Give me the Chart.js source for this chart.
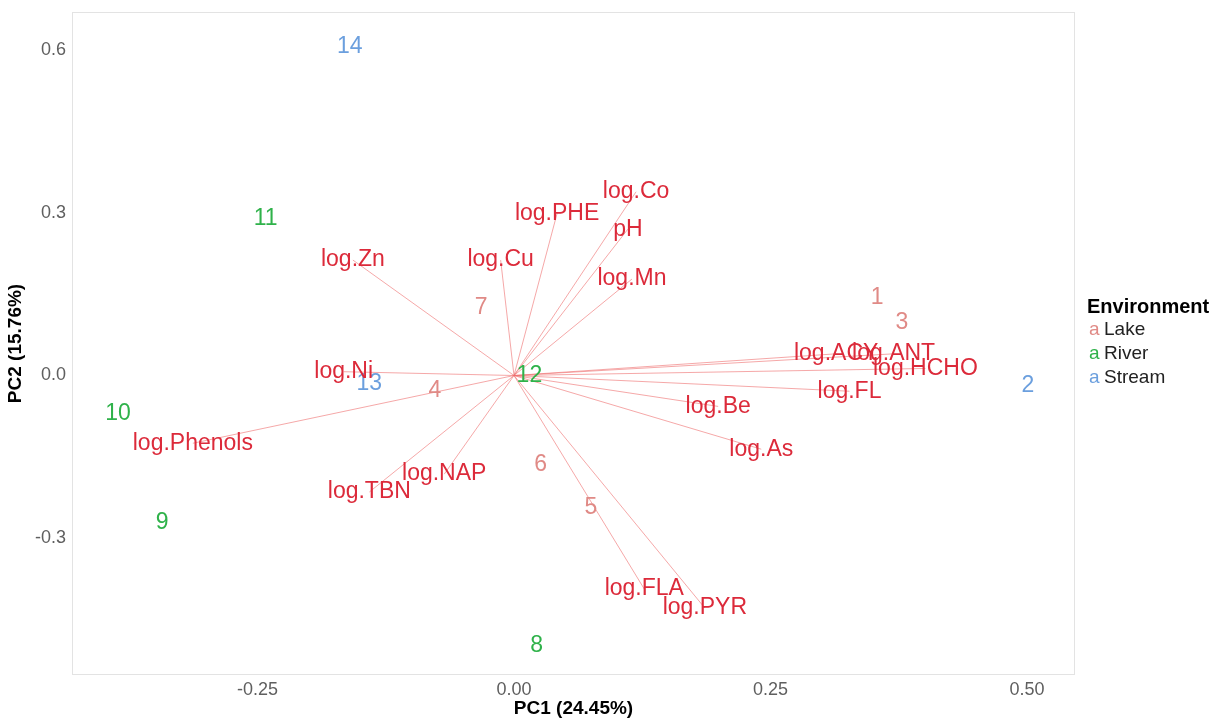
<!DOCTYPE html>
<html>
<head>
<meta charset="utf-8">
<script src="https://cdn.jsdelivr.net/npm/chart.js@4"></script>
<style>
body { margin: 0; background: #fff; }
#wrap { width: 1225px; height: 720px; }
</style>
</head>
<body>
<div id="wrap"><canvas id="pca" width="1225" height="720"></canvas></div>
<script>
// samples (scores)
var sampleIds = ['1','2','3','4','5','6','7','8','9','10','11','12','13','14'];
var sampleEnv = ['Lake','Stream','Lake','Lake','Lake','Lake','Lake','River','River','River','River','River','Stream','Stream'];
var sampleX = [0.354, 0.501, 0.378, -0.077, 0.075, 0.026, -0.032, 0.022, -0.343, -0.386, -0.242, 0.015, -0.141, -0.160];
var sampleY = [0.143, -0.018, 0.097, -0.028, -0.244, -0.165, 0.125, -0.499, -0.272, -0.070, 0.290, 0.000, -0.015, 0.607];

// loadings (arrow ends)
var loadNames = ['log.Zn','log.Cu','log.PHE','log.Co','pH','log.Mn','log.Ni','log.Phenols','log.TBN','log.NAP',
                 'log.FLA','log.PYR','log.As','log.Be','log.FL','log.ACY','log.ANT','log.HCHO'];
var loadX = [-0.157, -0.013, 0.042, 0.119, 0.111, 0.115, -0.166, -0.313, -0.141, -0.068,
             0.127, 0.186, 0.241, 0.199, 0.327, 0.314, 0.370, 0.401];
var loadY = [0.213, 0.213, 0.299, 0.339, 0.270, 0.178, 0.007, -0.125, -0.215, -0.182,
             -0.394, -0.429, -0.136, -0.057, -0.029, 0.040, 0.040, 0.013];

var envNames = ['Lake','River','Stream'];
var envColors = ['#e08a86', '#2fb24a', '#6b9fde'];

var xTicks = [-0.25, 0, 0.25, 0.5];
var yTicks = [-0.3, 0, 0.3, 0.6];

var FONT = "'Liberation Sans', Arial, sans-serif";

function envColor(e) { return envColors[envNames.indexOf(e)]; }

var datasets = [];
for (var i = 0; i < loadNames.length; i++) {
    datasets.push({
        label: loadNames[i],
        data: [{x: 0, y: 0}, {x: loadX[i], y: loadY[i]}],
        showLine: true,
        borderColor: 'rgba(238,110,110,0.6)',
        borderWidth: 1,
        pointRadius: 0,
        fill: false
    });
}
var samplePts = [];
for (var i = 0; i < sampleIds.length; i++) samplePts.push({x: sampleX[i], y: sampleY[i]});
datasets.push({ label: 'samples', data: samplePts, pointRadius: 0, showLine: false });

var textPlugin = {
    id: 'biplotText',
    beforeDatasetsDraw: function(chart) {
        var a = chart.chartArea, ctx = chart.ctx;
        ctx.save();
        ctx.strokeStyle = '#e3e3e3';
        ctx.lineWidth = 1;
        ctx.strokeRect(a.left + 0.5, a.top + 0.5, a.right - a.left - 1, a.bottom - a.top - 1);
        ctx.restore();
    },
    afterDatasetsDraw: function(chart) {
        var ctx = chart.ctx, xs = chart.scales.x, ys = chart.scales.y;
        ctx.save();
        ctx.textAlign = 'center';
        ctx.textBaseline = 'middle';
        ctx.font = '23px ' + FONT;
        for (var i = 0; i < sampleIds.length; i++) {
            ctx.fillStyle = envColor(sampleEnv[i]);
            ctx.fillText(sampleIds[i], xs.getPixelForValue(sampleX[i]), ys.getPixelForValue(sampleY[i]));
        }
        ctx.fillStyle = '#dc2a3a';
        for (var i = 0; i < loadNames.length; i++) {
            ctx.fillText(loadNames[i], xs.getPixelForValue(loadX[i]), ys.getPixelForValue(loadY[i]));
        }
        // legend
        var lx = chart.chartArea.right + 12;
        ctx.textAlign = 'left';
        ctx.fillStyle = '#000';
        ctx.font = 'bold 20px ' + FONT;
        ctx.fillText('Environment', lx, 307);
        ctx.font = '19px ' + FONT;
        for (var j = 0; j < envNames.length; j++) {
            var yy = 330 + j * 24;
            ctx.fillStyle = envColors[j];
            ctx.fillText('a', lx + 2, yy);
            ctx.fillStyle = '#222';
            ctx.fillText(envNames[j], lx + 17, yy);
        }
        ctx.restore();
    }
};

new Chart(document.getElementById('pca'), {
    type: 'scatter',
    data: { datasets: datasets },
    options: {
        responsive: false,
        animation: false,
        layout: { padding: { top: 12, right: 150, left: 0, bottom: 0 } },
        plugins: { legend: { display: false }, tooltip: { enabled: false } },
        scales: {
            x: {
                type: 'linear',
                min: -0.4308, max: 0.5468,
                grid: { display: false, drawTicks: false },
                border: { display: false },
                afterBuildTicks: function(s) { s.ticks = xTicks.map(function(v) { return {value: v}; }); },
                afterFit: function(s) { s.height = 45; s.paddingLeft = 0; s.paddingRight = 0; },
                ticks: {
                    color: '#5f5f5f', font: { size: 18, family: FONT }, padding: 4,
                    callback: function(v) { return Number(v).toFixed(2); }
                },
                title: {
                    display: true, text: 'PC1 (24.45%)', color: '#000',
                    font: { size: 19, weight: 'bold', family: FONT }, padding: { top: 0, bottom: 0 }
                }
            },
            y: {
                type: 'linear',
                min: -0.5526, max: 0.6707,
                grid: { display: false, drawTicks: false },
                border: { display: false },
                afterBuildTicks: function(s) { s.ticks = yTicks.map(function(v) { return {value: v}; }); },
                afterFit: function(s) { s.width = 72; s.paddingTop = 0; s.paddingBottom = 0; },
                ticks: {
                    color: '#5f5f5f', font: { size: 18, family: FONT }, padding: 6,
                    callback: function(v) { return Number(v).toFixed(1); }
                },
                title: {
                    display: true, text: 'PC2 (15.76%)', color: '#000',
                    font: { size: 19, weight: 'bold', family: FONT }, padding: { top: 4, bottom: 0 }
                }
            }
        }
    },
    plugins: [textPlugin]
});
</script>
</body>
</html>
